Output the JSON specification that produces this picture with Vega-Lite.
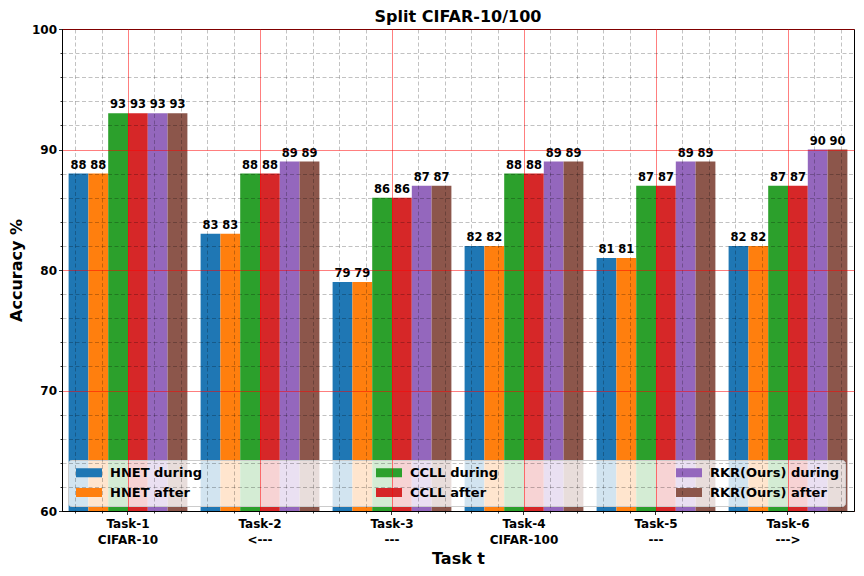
{
  "$schema": "https://vega.github.io/schema/vega-lite/v6.json",
  "width": 792,
  "height": 482,
  "autosize": "none",
  "padding": {"left": 62, "top": 29, "right": 10, "bottom": 65},
  "title": {"text": "Split CIFAR-10/100", "fontSize": 16, "font": "DejaVu Sans", "fontWeight": "bold", "offset": -2, "frame": "group", "color": "black"},
  "layer": [
    {
      "data": {"values": [{"gx": 0, "gy": 80}]},
      "mark": {"type": "point", "opacity": 0},
      "encoding": {
        "x": {"field": "gx", "type": "quantitative", "scale": {"domain": [-0.5, 5.5], "nice": false, "zero": false},
          "axis": {"orient": "bottom", "values": [-0.4,-0.2,0.2,0.4,0.6,0.8,1.2,1.4,1.6,1.8,2.2,2.4,2.6,2.8,3.2,3.4,3.6,3.8,4.2,4.4,4.6,4.8,5.2,5.4], "labels": false, "title": null, "domain": false, "ticks": true, "tickSize": 2, "tickColor": "black", "tickWidth": 0.8, "grid": true, "gridColor": "black", "gridOpacity": 0.3, "gridDash": [4, 2.5], "gridWidth": 0.8, "zindex": 1}},
        "y": {"field": "gy", "type": "quantitative", "scale": {"domain": [60, 100], "nice": false, "zero": false},
          "axis": {"orient": "left", "values": [62,64,66,68,72,74,76,78,82,84,86,88,92,94,96,98], "labels": false, "title": null, "domain": false, "ticks": true, "tickSize": 2, "tickColor": "black", "tickWidth": 0.8, "grid": true, "gridColor": "black", "gridOpacity": 0.3, "gridDash": [4, 2.5], "gridWidth": 0.8, "zindex": 1}}
      }
    },
    {
      "data": {"values": [{"gx": 0, "gy": 80}]},
      "mark": {"type": "point", "opacity": 0},
      "encoding": {
        "x": {"field": "gx", "type": "quantitative", "scale": {"domain": [-0.5, 5.5], "nice": false, "zero": false},
          "axis": {"orient": "bottom", "values": [0, 1, 2, 3, 4, 5], "labels": false, "title": null, "domain": false, "ticks": false, "grid": true, "gridColor": "#ff0000", "gridOpacity": 0.5, "gridWidth": 1, "zindex": 1}}
      }
    },
    {
      "data": {"values": [
        {"task": "Task-1|CIFAR-10", "series": "HNET during", "acc": 88},
        {"task": "Task-1|CIFAR-10", "series": "HNET after", "acc": 88},
        {"task": "Task-1|CIFAR-10", "series": "CCLL during", "acc": 93},
        {"task": "Task-1|CIFAR-10", "series": "CCLL after", "acc": 93},
        {"task": "Task-1|CIFAR-10", "series": "RKR(Ours) during", "acc": 93},
        {"task": "Task-1|CIFAR-10", "series": "RKR(Ours) after", "acc": 93},
        {"task": "Task-2|<---", "series": "HNET during", "acc": 83},
        {"task": "Task-2|<---", "series": "HNET after", "acc": 83},
        {"task": "Task-2|<---", "series": "CCLL during", "acc": 88},
        {"task": "Task-2|<---", "series": "CCLL after", "acc": 88},
        {"task": "Task-2|<---", "series": "RKR(Ours) during", "acc": 89},
        {"task": "Task-2|<---", "series": "RKR(Ours) after", "acc": 89},
        {"task": "Task-3|---", "series": "HNET during", "acc": 79},
        {"task": "Task-3|---", "series": "HNET after", "acc": 79},
        {"task": "Task-3|---", "series": "CCLL during", "acc": 86},
        {"task": "Task-3|---", "series": "CCLL after", "acc": 86},
        {"task": "Task-3|---", "series": "RKR(Ours) during", "acc": 87},
        {"task": "Task-3|---", "series": "RKR(Ours) after", "acc": 87},
        {"task": "Task-4|CIFAR-100", "series": "HNET during", "acc": 82},
        {"task": "Task-4|CIFAR-100", "series": "HNET after", "acc": 82},
        {"task": "Task-4|CIFAR-100", "series": "CCLL during", "acc": 88},
        {"task": "Task-4|CIFAR-100", "series": "CCLL after", "acc": 88},
        {"task": "Task-4|CIFAR-100", "series": "RKR(Ours) during", "acc": 89},
        {"task": "Task-4|CIFAR-100", "series": "RKR(Ours) after", "acc": 89},
        {"task": "Task-5| ---", "series": "HNET during", "acc": 81},
        {"task": "Task-5| ---", "series": "HNET after", "acc": 81},
        {"task": "Task-5| ---", "series": "CCLL during", "acc": 87},
        {"task": "Task-5| ---", "series": "CCLL after", "acc": 87},
        {"task": "Task-5| ---", "series": "RKR(Ours) during", "acc": 89},
        {"task": "Task-5| ---", "series": "RKR(Ours) after", "acc": 89},
        {"task": "Task-6|--->", "series": "HNET during", "acc": 82},
        {"task": "Task-6|--->", "series": "HNET after", "acc": 82},
        {"task": "Task-6|--->", "series": "CCLL during", "acc": 87},
        {"task": "Task-6|--->", "series": "CCLL after", "acc": 87},
        {"task": "Task-6|--->", "series": "RKR(Ours) during", "acc": 90},
        {"task": "Task-6|--->", "series": "RKR(Ours) after", "acc": 90}
      ]},
      "encoding": {
        "x": {"field": "task", "type": "nominal", "sort": null,
          "scale": {"paddingInner": 0.1, "paddingOuter": 0.05},
          "axis": {"orient": "bottom", "title": "Task t", "titleFontSize": 16, "titleFontWeight": "bold", "titleColor": "black", "titlePadding": 5,
            "labelExpr": "split(datum.label, '|')", "labelAngle": 0, "labelFontSize": 12, "labelFontWeight": "bold", "labelColor": "black", "labelLineHeight": 16, "labelPadding": 4,
            "bandPosition": 0.5, "tickSize": 3.5, "tickColor": "black", "tickWidth": 0.8, "domain": true, "domainColor": "black", "domainWidth": 1,
            "grid": false, "zindex": 1}},
        "xOffset": {"field": "series", "type": "nominal", "sort": ["HNET during", "HNET after", "CCLL during", "CCLL after", "RKR(Ours) during", "RKR(Ours) after"]},
        "y": {"field": "acc", "type": "quantitative", "scale": {"domain": [60, 100], "nice": false, "zero": false},
          "axis": {"orient": "left", "values": [60, 70, 80, 90, 100], "title": "Accuracy %", "titleFontSize": 16, "titleFontWeight": "bold", "titleColor": "black", "titlePadding": 7,
            "labelFontSize": 12, "labelFontWeight": "bold", "labelColor": "black", "labelPadding": 2,
            "tickSize": 3.5, "tickColor": "black", "tickWidth": 0.8, "domain": true, "domainColor": "black", "domainWidth": 1,
            "grid": true, "gridColor": "#ff0000", "gridOpacity": 0.5, "gridWidth": 1, "zindex": 1}}
      },
      "layer": [
        {
          "mark": {"type": "bar", "clip": true},
          "encoding": {
            "color": {"field": "series", "type": "nominal",
              "scale": {"domain": ["HNET during", "HNET after", "CCLL during", "CCLL after", "RKR(Ours) during", "RKR(Ours) after"],
                        "range": ["#1f77b4", "#ff7f0e", "#2ca02c", "#d62728", "#9467bd", "#8c564b"]},
              "legend": {"title": null, "orient": "none", "legendX": 6, "legendY": 431, "columns": 3, "gridAlign": "all", "columnPadding": 135, "rowPadding": 6,
                "symbolType": "M-1,-1L4.78,-1L4.78,1L-1,1Z", "symbolSize": 81, "symbolStrokeWidth": 0, "symbolOpacity": 1, "labelOffset": 23,
                "labelFontSize": 13, "labelFontWeight": "bold", "labelColor": "black", "labelFont": "DejaVu Sans",
                "fillColor": "rgba(255,255,255,0.8)", "strokeColor": "#cccccc", "padding": 6, "cornerRadius": 3}}
          }
        },
        {
          "mark": {"type": "text", "dy": -5, "baseline": "alphabetic", "fontSize": 11.5, "fontWeight": "bold", "color": "black"},
          "encoding": {"text": {"field": "acc", "type": "quantitative"}}
        }
      ]
    }
  ],
  "resolve": {"scale": {"x": "independent"}, "axis": {"x": "independent", "y": "independent"}},
  "config": {"font": "DejaVu Sans", "view": {"stroke": "black", "strokeWidth": 1}}
}
